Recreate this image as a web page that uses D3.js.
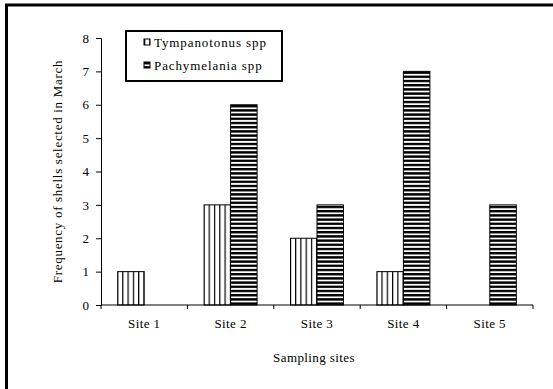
<!DOCTYPE html>
<html>
<head>
<meta charset="utf-8">
<script src="https://cdn.jsdelivr.net/npm/d3@7"></script>
<style>
  body { margin: 0; background: #fff; }
  svg text { font-family: "Liberation Serif", "Times New Roman", serif !important; fill: #000; }
</style>
</head>
<body>
<div id="chart"></div>
<script>
// data
const sites = ["Site 1", "Site 2", "Site 3", "Site 4", "Site 5"];
const seriesNames = ["Tympanotonus spp", "Pachymelania spp"];
const tympanotonus = [1, 3, 2, 1, 0];
const pachymelania = [0, 6, 3, 7, 3];
const yTicks = [0, 1, 2, 3, 4, 5, 6, 7, 8];

const width = 553, height = 389;
const margin = {top: 38, right: 20, bottom: 84, left: 101};

const svg = d3.select("#chart").append("svg")
    .attr("width", width)
    .attr("height", height);

// patterns
const defs = svg.append("defs");
const pv = defs.append("pattern")
    .attr("id", "vlines")
    .attr("patternUnits", "userSpaceOnUse")
    .attr("width", 5.3).attr("height", 10);
pv.append("rect").attr("width", 5.3).attr("height", 10).attr("fill", "#fff");
pv.append("rect").attr("x", 0).attr("width", 1.2).attr("height", 10).attr("fill", "#000");

const ph = defs.append("pattern")
    .attr("id", "hlines")
    .attr("patternUnits", "userSpaceOnUse")
    .attr("width", 10).attr("height", 4.2);
ph.append("rect").attr("width", 10).attr("height", 4.2).attr("fill", "#fff");
ph.append("rect").attr("y", 0).attr("width", 10).attr("height", 2.4).attr("fill", "#000");

const fills = ["url(#vlines)", "url(#hlines)"];

// outer frame (only left and top visible)
svg.append("path")
    .attr("d", `M6.5,${height + 5} V5 H${width + 5}`)
    .attr("fill", "none")
    .attr("stroke", "#000")
    .attr("stroke-width", 3);

const x = d3.scaleBand()
    .domain(sites)
    .range([margin.left, width - margin.right])
    .padding(0);

const xSub = d3.scaleBand()
    .domain(seriesNames)
    .range([0, x.bandwidth()])
    .paddingInner(0)
    .paddingOuter(0.63);

const y = d3.scaleLinear()
    .domain([0, 8])
    .range([height - margin.bottom, margin.top]);

const table = sites.map((s, i) => ({site: s, values: [tympanotonus[i], pachymelania[i]]}));

// bars
const groups = svg.append("g").selectAll("g")
    .data(table)
    .join("g")
    .attr("transform", d => `translate(${x(d.site)},0)`);

groups.selectAll("rect")
    .data(d => d.values.map((v, j) => ({name: seriesNames[j], value: v, j})).filter(e => e.value > 0))
    .join("rect")
    .attr("x", d => xSub(d.name))
    .attr("y", d => y(d.value))
    .attr("width", xSub.bandwidth())
    .attr("height", d => y(0) - y(d.value))
    .attr("fill", d => fills[d.j])
    .attr("stroke", "#000")
    .attr("stroke-width", 1);

// y axis
const yAxis = svg.append("g")
    .attr("transform", `translate(${margin.left},0)`)
    .call(d3.axisLeft(y).tickValues(yTicks).tickSize(5).tickPadding(7).tickFormat(d3.format("d")));
yAxis.selectAll("text").attr("font-size", 13);
yAxis.selectAll("line, path").attr("stroke", "#000");

// x axis
const xAxis = svg.append("g")
    .attr("transform", `translate(0,${y(0)})`)
    .call(d3.axisBottom(x).tickSize(0).tickPadding(14));
xAxis.select(".domain").attr("stroke", "#000").attr("d", `M${margin.left},0H${width - margin.right}`);
xAxis.selectAll("text").attr("font-size", 13).attr("letter-spacing", 0.4);
xAxis.selectAll(".sep")
    .data(sites.map(s => x(s)).concat([x(sites[sites.length - 1]) + x.bandwidth()]))
    .join("line")
    .attr("class", "sep")
    .attr("x1", d => d).attr("x2", d => d)
    .attr("y1", 0).attr("y2", 4)
    .attr("stroke", "#000");

// axis titles
svg.append("text")
    .attr("x", 314)
    .attr("y", 362)
    .attr("text-anchor", "middle")
    .attr("font-size", 13)
    .attr("letter-spacing", 0.4)
    .text("Sampling sites");

svg.append("text")
    .attr("transform", `translate(62,${(y(0) + y(8)) / 2}) rotate(-90)`)
    .attr("text-anchor", "middle")
    .attr("font-size", 13)
    .attr("letter-spacing", 0.7)
    .text("Frequency of shells selected in March");

// legend
const legend = svg.append("g");
legend.append("rect")
    .attr("x", 126).attr("y", 31)
    .attr("width", 156).attr("height", 50)
    .attr("fill", "#fff")
    .attr("stroke", "#000")
    .attr("stroke-width", 2);

const items = legend.selectAll("g.item")
    .data(seriesNames)
    .join("g")
    .attr("class", "item")
    .attr("transform", (d, i) => `translate(144,${39 + i * 23})`);
items.append("rect")
    .attr("width", 6).attr("height", 6)
    .attr("fill", (d, i) => fills[i])
    .attr("stroke", "#000")
    .attr("stroke-width", 1);
items.append("text")
    .attr("x", 10).attr("y", 8)
    .attr("font-size", 13)
    .attr("letter-spacing", 0.9)
    .text(d => d);
</script>
</body>
</html>
